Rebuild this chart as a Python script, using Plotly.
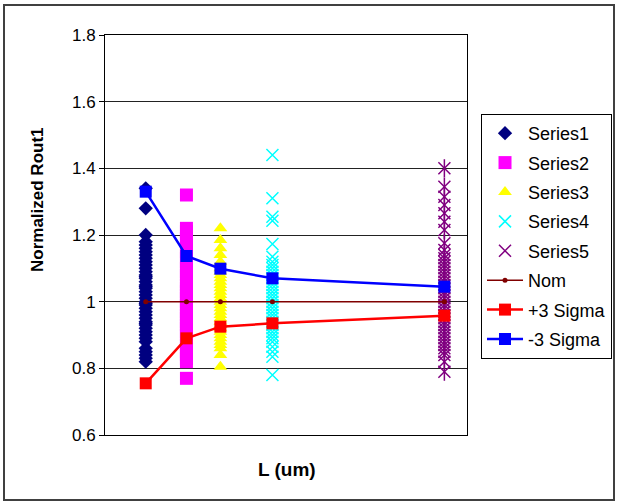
import plotly.graph_objects as go

# x positions (L in um) for each group
L_vals = [0.18, 0.36, 0.51, 0.74, 1.5]

series1 = [1.34, 1.28, 1.20, 1.18, 1.17, 1.16, 1.15, 1.14, 1.13, 1.12, 1.11, 1.10, 1.09,
           1.08, 1.075, 1.07, 1.06, 1.05, 1.045, 1.04, 1.03, 1.02, 1.01, 1.00, 0.995, 0.99,
           0.98, 0.97, 0.96, 0.95, 0.94, 0.935, 0.93, 0.92, 0.91, 0.90, 0.89, 0.88, 0.86,
           0.85, 0.84, 0.83, 0.82]
series2 = [1.32, 1.22, 1.21, 1.19, 1.18, 1.16, 1.15, 1.13, 1.12, 1.10, 1.09, 1.08, 1.06,
           1.05, 1.04, 1.03, 1.02, 1.01, 1.00, 0.99, 0.98, 0.97, 0.96, 0.95, 0.94, 0.93,
           0.92, 0.91, 0.90, 0.88, 0.87, 0.86, 0.85, 0.84, 0.83, 0.82, 0.77]
series3 = [1.22, 1.185, 1.16, 1.14, 1.12, 1.10, 1.09, 1.08, 1.07, 1.06, 1.05, 1.04, 1.03,
           1.02, 1.01, 1.00, 0.99, 0.98, 0.97, 0.96, 0.95, 0.94, 0.93, 0.92, 0.91, 0.90,
           0.89, 0.88, 0.87, 0.86, 0.84, 0.805]
series4 = [1.44, 1.31, 1.255, 1.243, 1.173, 1.135, 1.12, 1.11, 1.10, 1.09, 1.08, 1.07, 1.06,
           1.05, 1.04, 1.03, 1.02, 1.01, 1.00, 0.99, 0.98, 0.97, 0.96, 0.95, 0.94, 0.93,
           0.92, 0.91, 0.90, 0.89, 0.88, 0.865, 0.85, 0.835, 0.78]
series5 = [1.40, 1.345, 1.315, 1.29, 1.265, 1.24, 1.215, 1.175, 1.155, 1.14, 1.13, 1.12,
           1.11, 1.10, 1.09, 1.08, 1.07, 1.06, 1.05, 1.04, 1.03, 1.02, 1.01, 1.00, 0.99,
           0.98, 0.97, 0.96, 0.95, 0.94, 0.93, 0.92, 0.91, 0.90, 0.89, 0.88, 0.87, 0.86,
           0.85, 0.84, 0.82, 0.79]
nom = [1.0, 1.0, 1.0, 1.0, 1.0]
plus3 = [0.755, 0.89, 0.925, 0.935, 0.958]
minus3 = [1.33, 1.137, 1.099, 1.07, 1.045]

FONT = "Arial, Liberation Sans, sans-serif"

fig = go.Figure()

def col(i, vals):
    return [L_vals[i]] * len(vals)

fig.add_trace(go.Scatter(x=col(0, series1), y=series1, mode="markers", name="Series1",
                         legendgroup="s1",
                         marker=dict(symbol="diamond", size=11, color="#000080")))
fig.add_trace(go.Scatter(x=col(1, series2), y=series2, mode="markers", name="Series2",
                         legendgroup="s2",
                         marker=dict(symbol="square", size=13, color="#FF00FF")))
fig.add_trace(go.Scatter(x=col(2, series3), y=series3, mode="markers", name="Series3",
                         legendgroup="s3",
                         marker=dict(symbol="triangle-up", size=12, color="#FFFF00")))
fig.add_trace(go.Scatter(x=col(3, series4), y=series4, mode="markers", name="Series4",
                         legendgroup="s4",
                         marker=dict(symbol="x-thin", size=12, color="#00FFFF",
                                     line=dict(color="#00FFFF", width=1.5))))
fig.add_trace(go.Scatter(x=col(4, series5), y=series5, mode="markers", name="Series5",
                         legendgroup="s5",
                         marker=dict(symbol="x-thin", size=12, color="#800080",
                                     line=dict(color="#800080", width=1.5))))
fig.add_trace(go.Scatter(x=col(4, series5), y=series5, mode="markers", name="Series5",
                         legendgroup="s5", showlegend=False,
                         marker=dict(symbol="line-ns", size=13, color="#800080",
                                     line=dict(color="#800080", width=1.5))))
fig.add_trace(go.Scatter(x=L_vals, y=nom, mode="lines+markers", name="Nom",
                         legendgroup="nom",
                         line=dict(color="#800000", width=1.5),
                         marker=dict(symbol="circle", size=5, color="#800000")))
fig.add_trace(go.Scatter(x=L_vals, y=plus3, mode="lines+markers", name="+3 Sigma",
                         legendgroup="p3",
                         line=dict(color="#FF0000", width=2.5),
                         marker=dict(symbol="square", size=12, color="#FF0000")))
fig.add_trace(go.Scatter(x=L_vals, y=minus3, mode="lines+markers", name="-3 Sigma",
                         legendgroup="m3",
                         line=dict(color="#0000FF", width=2.5),
                         marker=dict(symbol="square", size=12, color="#0000FF")))

fig.update_layout(
    width=617, height=502,
    margin=dict(l=105, r=150, t=35, b=67, autoexpand=False),
    paper_bgcolor="white", plot_bgcolor="white",
    font=dict(family=FONT, size=17, color="black"),
    showlegend=True,
    legend=dict(x=1.0387, y=0.8025, xanchor="left", yanchor="top",
                bordercolor="black", borderwidth=1, bgcolor="white",
                font=dict(family=FONT, size=18, color="black"),
                tracegroupgap=3, itemsizing="trace", itemwidth=36),
    xaxis=dict(range=[0, 1.6], showticklabels=False, ticks="", showgrid=False,
               zeroline=False, showline=True, mirror=True, linecolor="black", linewidth=1),
    yaxis=dict(range=[0.6, 1.8], dtick=0.2, tick0=0.6, ticks="outside", ticklen=5,
               tickcolor="black", showgrid=True, gridcolor="#222222", gridwidth=1,
               zeroline=False, showline=True, mirror=True, linecolor="black", linewidth=1,
               tickfont=dict(family=FONT, size=17)),
    annotations=[
        dict(text="<b>Normalized Rout1</b>", xref="paper", yref="paper",
             x=(37 - 105) / 362, y=(435 - 200) / 400, textangle=-90, showarrow=False,
             font=dict(family=FONT, size=17, color="black"), xanchor="center", yanchor="middle"),
        dict(text="<b>L (um)</b>", xref="paper", yref="paper",
             x=(287 - 105) / 362, y=(435 - 469) / 400, showarrow=False,
             font=dict(family=FONT, size=19, color="black"), xanchor="center", yanchor="middle"),
    ],
    shapes=[
        dict(type="rect", xref="paper", yref="paper",
             x0=(4 - 105) / 362, x1=(614 - 105) / 362,
             y0=(435 - 500) / 400, y1=(435 - 5) / 400,
             line=dict(color="#404040", width=2), fillcolor="rgba(0,0,0,0)", layer="below"),
    ],
)

fig.write_html("out.html", config={"displayModeBar": False},
               post_script="document.body.style.margin='0px';document.body.style.overflow='hidden';")
